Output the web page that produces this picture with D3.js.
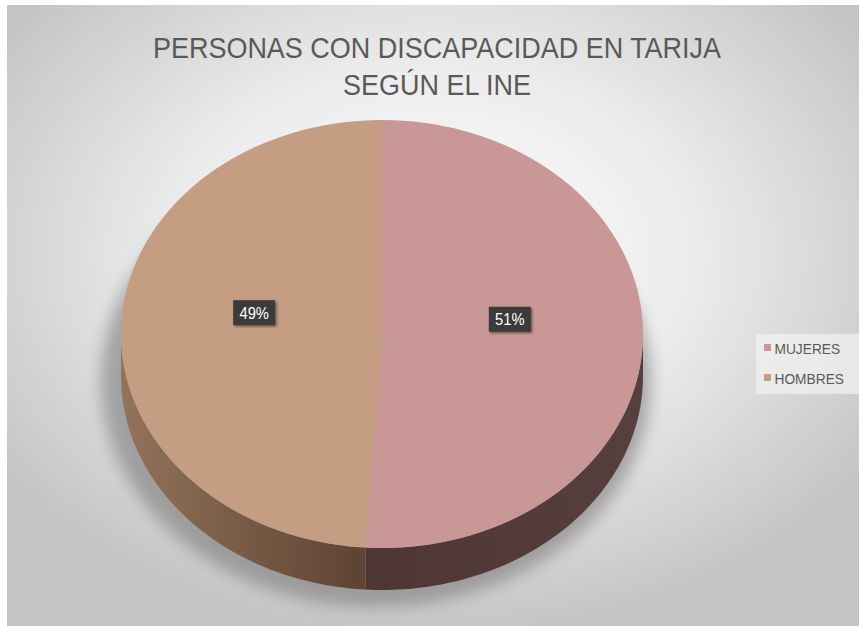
<!DOCTYPE html>
<meta charset="utf-8">
<style>
body{ margin:0; background:#fff; }
text{ font-family:"Liberation Sans",Arial,sans-serif; }
.title{ font-size:30px; fill:#595959; text-anchor:middle; }
.legend text{ font-size:14.5px; fill:#595959; }
.lbl text{ font-size:16px; fill:#fff; text-anchor:middle; }
</style>
<body>
<div id="chart"></div>
<script src="https://d3js.org/d3.v7.min.js"></script>
<script>
var categories = ["MUJERES", "HOMBRES"];
var values = [51, 49];
var labels = ["51%", "49%"];
var topColors = ["#c99795", "#c49d82"];
var titleLines = ["PERSONAS CON DISCAPACIDAD EN TARIJA", "SEGÚN EL INE"];

var W = 859, H = 626;
var cx = 382, cy = 334, rx = 261, ry = 214, depth = 42;

var svg = d3.select("#chart").append("svg").attr("width", W).attr("height", H);
var defs = svg.append("defs");

var bg = defs.append("radialGradient").attr("id", "bg")
    .attr("cx", "0.5").attr("cy", "0.4").attr("r", "0.62");
bg.append("stop").attr("offset", "0").attr("stop-color", "#ffffff");
bg.append("stop").attr("offset", "0.5").attr("stop-color", "#ebebeb");
bg.append("stop").attr("offset", "1").attr("stop-color", "#c4c4c4");

var blur = defs.append("filter").attr("id", "blur").attr("x", "-20%").attr("y", "-20%").attr("width", "140%").attr("height", "140%");
blur.append("feGaussianBlur").attr("stdDeviation", 8);

var lblShadow = defs.append("filter").attr("id", "lshadow");
lblShadow.append("feDropShadow").attr("dx", 1.5).attr("dy", 1.5).attr("stdDeviation", 1.2).attr("flood-opacity", 0.45);

// side gradients
var sideH = defs.append("linearGradient").attr("id", "sideH")
    .attr("gradientUnits", "userSpaceOnUse").attr("x1", cx - rx).attr("x2", cx).attr("y1", 0).attr("y2", 0);
sideH.append("stop").attr("offset", "0").attr("stop-color", "#937359");
sideH.append("stop").attr("offset", "1").attr("stop-color", "#5a4030");
var sideM = defs.append("linearGradient").attr("id", "sideM")
    .attr("gradientUnits", "userSpaceOnUse").attr("x1", cx).attr("x2", cx + rx).attr("y1", 0).attr("y2", 0);
sideM.append("stop").attr("offset", "0").attr("stop-color", "#4e3634");
sideM.append("stop").attr("offset", "1").attr("stop-color", "#56403e");
var sideFill = ["url(#sideM)", "url(#sideH)"];

svg.append("rect").attr("x", 7).attr("y", 5).attr("width", W - 7).attr("height", H - 5).attr("fill", "url(#bg)");

// title, squeezed horizontally like a narrow face
svg.selectAll("text.title").data(titleLines).enter().append("text")
    .attr("class", "title")
    .attr("transform", function(d, i){ return "translate(437," + (58 + i * 37) + ") scale(0.9,1)"; })
    .text(function(d){ return d; });

// pie
var data = categories.map(function(c, i){ return {name: c, value: values[i], label: labels[i], i: i}; });
var arcs = d3.pie().sort(null).value(function(d){ return d.value; })(data);

function px(a, r){ return cx + rx * r * Math.sin(a); }
function py(a, r){ return cy - ry * r * Math.cos(a); }

function topPath(d){
    var n = 80, pts = [[cx, cy]];
    for (var k = 0; k <= n; k++){
        var a = d.startAngle + (d.endAngle - d.startAngle) * k / n;
        pts.push([px(a, 1), py(a, 1)]);
    }
    return d3.line()(pts) + "Z";
}
function sidePath(d){
    var a0 = Math.max(d.startAngle, Math.PI / 2), a1 = Math.min(d.endAngle, Math.PI * 1.5);
    if (a1 <= a0) return null;
    var n = 80, up = [], down = [];
    for (var k = 0; k <= n; k++){
        var a = a0 + (a1 - a0) * k / n;
        up.push([px(a, 1), py(a, 1)]);
        down.unshift([px(a, 1), py(a, 1) + depth]);
    }
    return d3.line()(up.concat(down)) + "Z";
}

// soft shadow under the pie
svg.append("ellipse")
    .attr("cx", cx - 6).attr("cy", cy + depth / 2 + 26)
    .attr("rx", rx + 14).attr("ry", ry + 12)
    .attr("fill", "#7a7a7a").attr("opacity", 0.6)
    .attr("filter", "url(#blur)");

var g = svg.append("g");
g.selectAll("path.side").data(arcs).enter().append("path")
    .attr("class", "side")
    .attr("d", sidePath)
    .attr("fill", function(d){ return sideFill[d.data.i]; });
g.selectAll("path.top").data(arcs).enter().append("path")
    .attr("class", "top")
    .attr("d", topPath)
    .attr("fill", function(d){ return topColors[d.data.i]; });

// data labels
var lbl = svg.selectAll("g.lbl").data(arcs).enter().append("g")
    .attr("class", "lbl")
    .attr("transform", function(d){
        var a = (d.startAngle + d.endAngle) / 2;
        return "translate(" + px(a, 0.49) + "," + (py(a, 0.49) - 18) + ")";
    });
lbl.append("rect")
    .attr("x", -21).attr("y", -12.5).attr("width", 42).attr("height", 25)
    .attr("fill", "#3b3b3b").attr("filter", "url(#lshadow)");
lbl.append("text").attr("y", 6).attr("transform", "scale(0.92,1)").text(function(d){ return d.data.label; });

// legend
var leg = svg.append("g").attr("class", "legend");
leg.append("rect").attr("x", 756).attr("y", 334).attr("width", 103).attr("height", 60)
    .attr("fill", "#f2f2f2").attr("opacity", 0.7);
var li = leg.selectAll("g.item").data(categories).enter().append("g")
    .attr("class", "item")
    .attr("transform", function(d, i){ return "translate(764," + (348 + i * 30) + ")"; });
li.append("rect").attr("x", 0).attr("y", -4).attr("width", 7).attr("height", 7)
    .attr("fill", function(d, i){ return topColors[i]; });
li.append("text").attr("x", 11).attr("y", 5.5).attr("transform", "scale(0.95,1)").text(function(d){ return d; });
</script>
</body>
</html>
